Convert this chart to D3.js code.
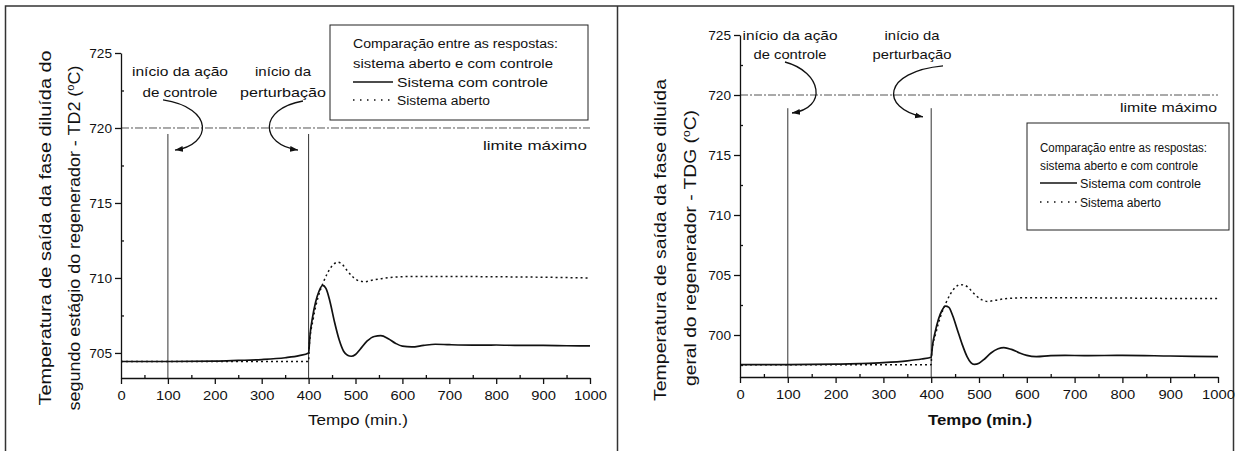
<!DOCTYPE html>
<html>
<head>
<meta charset="utf-8">
<script src="https://cdn.jsdelivr.net/npm/d3@7"></script>
<style>
	body { margin: 0; background: #fff; }
	svg { display: block; font-family: "Liberation Sans", Arial, sans-serif; }
</style>
</head>
<body>
<svg id="chart" width="1237" height="451"></svg>
<script>
// Eixos
const tempoTicks = [0, 100, 200, 300, 400, 500, 600, 700, 800, 900, 1000];
const tempoMinor = [50, 150, 250, 350, 450, 550, 650, 750, 850, 950];
const td2Ticks = [705, 710, 715, 720, 725];
const td2Minor = [707.5, 712.5, 717.5, 722.5];
const tdgTicks = [700, 705, 710, 715, 720, 725];
const tdgMinor = [697.5, 702.5, 707.5, 712.5, 717.5, 722.5];

const limiteMaximo = 720;
const inicioControle = 100;
const inicioPerturbacao = 400;

// TD2 - segundo estagio [tempo, temperatura]
const td2Controle = [[0,704.43],[100,704.43],[200,704.45],[250,704.5],[300,704.56],[350,704.68],[380,704.82],[400,705.0],[403,706.2],[408,707.3],[415,708.4],[422,709.1],[430,709.5],[437,709.3],[445,708.5],[455,707.1],[465,705.9],[475,705.1],[483,704.85],[491,704.78],[500,704.9],[510,705.25],[525,705.8],[540,706.1],[554,706.15],[570,705.95],[585,705.65],[600,705.45],[620,705.4],[645,705.5],[670,705.58],[700,705.55],[750,705.52],[800,705.53],[850,705.5],[900,705.5],[950,705.48],[1000,705.47]];
const td2Aberto = [[0,704.43],[400,704.43],[401,705.3],[410,707.3],[420,708.7],[430,709.6],[440,710.3],[450,710.8],[462,711.05],[472,710.9],[482,710.5],[495,710.05],[508,709.8],[520,709.75],[535,709.85],[555,709.95],[580,710.05],[620,710.1],[700,710.1],[800,710.08],[900,710.05],[1000,710.0]];

// TDG - geral do regenerador
const tdgControle = [[0,697.53],[100,697.53],[200,697.57],[250,697.62],[300,697.7],[350,697.85],[380,698.0],[400,698.15],[403,699.2],[408,700.2],[415,701.3],[422,702.0],[430,702.4],[437,702.3],[445,701.6],[455,700.4],[465,699.2],[475,698.2],[483,697.7],[490,697.55],[500,697.65],[510,697.95],[525,698.5],[540,698.85],[552,698.95],[568,698.8],[585,698.5],[600,698.3],[620,698.2],[650,698.28],[680,698.3],[720,698.28],[800,698.3],[900,698.25],[1000,698.2]];
const tdgAberto = [[0,697.53],[400,697.53],[401,698.5],[410,700.2],[420,701.6],[430,702.6],[440,703.4],[450,703.95],[460,704.2],[470,704.15],[480,703.85],[492,703.35],[505,702.95],[518,702.8],[535,702.9],[560,703.05],[600,703.1],[700,703.1],[800,703.08],[900,703.05],[1000,703.05]];

// setas das anotacoes, em unidades do grafico
const td2SetaControle = [[89.6,721.87],[200.4,721.33],[194,718.87],[115.1,718.53]];
const td2SetaPerturb = [[388,721.8],[292,721.27],[296.4,718.87],[377.4,718.53]];
const tdgSetaControle = [[94.1,722.75],[171.5,721.92],[184.1,718.92],[108.8,718.5]];
const tdgSetaPerturb = [[424.7,722.42],[297.1,721.92],[292.9,718.92],[382.8,718.17]];

const svg = d3.select('#chart');

svg.append('defs').append('marker')
	.attr('id', 'seta')
	.attr('markerUnits', 'userSpaceOnUse')
	.attr('markerWidth', 9).attr('markerHeight', 8)
	.attr('refX', 8).attr('refY', 0)
	.attr('viewBox', '0 -4 9 8')
	.attr('orient', 'auto')
	.append('path')
	.attr('d', 'M0,-3L8,0L0,3Z')
	.attr('fill', '#111');

// molduras
svg.append('path')
	.attr('d', 'M5.5,470V6H1233.5V470M617.5,6V470')
	.attr('fill', 'none')
	.attr('stroke', '#333')
	.attr('stroke-width', 1.5);

function addText(g, x, y, s, o) {
	o = o || {};
	const t = g.append('text')
		.attr('x', x).attr('y', y)
		.attr('font-size', o.size || 13)
		.attr('text-anchor', o.anchor || 'middle')
		.attr('font-weight', o.weight || 'normal')
		.attr('fill', '#111')
		.text(s);
	if (o.len) t.attr('textLength', o.len).attr('lengthAdjust', 'spacingAndGlyphs');
	return t;
}

class ResponsePanel {
	constructor(_config, data) {
		this.config = _config;
		this.data = data;
		this.initVis();
	}

	initVis() {
		let vis = this;
		const c = vis.config;

		vis.g = svg.append('g');
		vis.xScale = d3.scaleLinear().domain([0, 1000]).range(c.xRange);
		vis.yScale = d3.scaleLinear().domain(c.yDomain).range(c.yRange);

		vis.line = d3.line()
			.x(d => vis.xScale(d[0]))
			.y(d => vis.yScale(d[1]))
			.curve(d3.curveMonotoneX);

		vis.renderVis();
	}

	styleAxis(g) {
		g.selectAll('path, line').attr('stroke', '#111').attr('stroke-width', 1.3);
		g.selectAll('text').attr('font-size', 13).attr('fill', '#111');
		g.attr('font-family', null);
	}

	renderVis() {
		let vis = this;
		const c = vis.config;
		const g = vis.g;
		const x0 = c.yRange[0];

		// limite maximo
		g.append('line')
			.attr('x1', vis.xScale(0)).attr('x2', vis.xScale(1000))
			.attr('y1', vis.yScale(limiteMaximo)).attr('y2', vis.yScale(limiteMaximo))
			.attr('stroke', '#555').attr('stroke-width', 1)
			.attr('stroke-dasharray', '8,2,2,2');

		// linhas verticais de inicio
		[inicioControle, inicioPerturbacao].forEach(t => {
			g.append('line')
				.attr('x1', vis.xScale(t)).attr('x2', vis.xScale(t))
				.attr('y1', vis.yScale(c.vTop)).attr('y2', x0)
				.attr('stroke', '#333').attr('stroke-width', 1);
		});

		// series
		g.append('path').datum(vis.data.aberto)
			.attr('d', vis.line)
			.attr('fill', 'none').attr('stroke', '#111').attr('stroke-width', 1.5)
			.attr('stroke-dasharray', '2,3');
		g.append('path').datum(vis.data.controle)
			.attr('d', vis.line)
			.attr('fill', 'none').attr('stroke', '#111').attr('stroke-width', 1.7);

		// eixos
		const xAxisG = g.append('g').attr('transform', `translate(0,${x0})`)
			.call(d3.axisBottom(vis.xScale).tickValues(tempoTicks).tickFormat(d => String(d))
				.tickSize(6).tickSizeOuter(0).tickPadding(7));
		xAxisG.selectAll('text')
			.attr('textLength', d => String(d).length * 8.2)
			.attr('lengthAdjust', 'spacingAndGlyphs');
		vis.styleAxis(xAxisG);
		const xMinorG = g.append('g').attr('transform', `translate(0,${x0})`)
			.call(d3.axisTop(vis.xScale).tickValues(tempoMinor).tickSize(3).tickFormat(''));
		xMinorG.select('.domain').remove();
		vis.styleAxis(xMinorG);

		const x = c.xRange[0];
		const yAxisG = g.append('g').attr('transform', `translate(${x},0)`)
			.call(d3.axisLeft(vis.yScale).tickValues(c.yTicks).tickFormat(d => String(d))
				.tickSize(6).tickSizeOuter(0).tickPadding(3));
		yAxisG.selectAll('text')
			.attr('textLength', d => String(d).length * 7.6)
			.attr('lengthAdjust', 'spacingAndGlyphs');
		vis.styleAxis(yAxisG);
		const yMinorG = g.append('g').attr('transform', `translate(${x},0)`)
			.call(d3.axisRight(vis.yScale).tickValues(c.yMinor).tickSize(3).tickFormat(''));
		yMinorG.select('.domain').remove();
		vis.styleAxis(yMinorG);

		// titulos
		addText(g, c.xTitle.x, c.xTitle.y, 'Tempo (min.)', { size: 15, len: c.xTitle.len, weight: c.xTitle.weight });
		c.yTitle.forEach(tl => {
			const t = g.append('text')
				.attr('transform', `translate(${tl.x},${tl.y}) rotate(-90)`)
				.attr('font-size', 16)
				.attr('text-anchor', 'middle')
				.attr('font-weight', tl.weight || 'normal')
				.attr('fill', '#111')
				.attr('textLength', tl.len)
				.attr('lengthAdjust', 'spacingAndGlyphs');
			if (tl.unit) {
				t.append('tspan').text(tl.text + ' (');
				t.append('tspan').attr('font-size', 10).attr('dy', -6).text('o');
				t.append('tspan').attr('dy', 6).text('C)');
			} else {
				t.text(tl.text);
			}
		});

		// anotacoes
		c.notes.forEach(n => {
			n.lines.forEach((s, i) => addText(g, n.cx, n.ys[i], s, { size: 13, len: n.lens[i] }));
		});
		c.arrows.forEach(a => {
			const p = a.map(d => [vis.xScale(d[0]), vis.yScale(d[1])]);
			g.append('path')
				.attr('d', `M${p[0]}C${p[1]} ${p[2]} ${p[3]}`)
				.attr('fill', 'none').attr('stroke', '#111').attr('stroke-width', 1.3)
				.attr('marker-end', 'url(#seta)');
		});

		addText(g, c.limite.x, c.limite.y, 'limite máximo', { size: 13, anchor: 'end', len: c.limite.len });

		// legenda
		const L = c.legend;
		g.append('rect')
			.attr('x', L.x).attr('y', L.y).attr('width', L.w).attr('height', L.h)
			.attr('fill', '#fff').attr('stroke', '#222').attr('stroke-width', 1);
		addText(g, L.tx, L.rows[0], 'Comparação entre as respostas:', { size: L.size, anchor: 'start', len: L.lens[0] });
		addText(g, L.tx, L.rows[1], 'sistema aberto e com controle', { size: L.size, anchor: 'start', len: L.lens[1] });
		g.append('line')
			.attr('x1', L.tx).attr('x2', L.sampleEnd)
			.attr('y1', L.rows[2] - 4.5).attr('y2', L.rows[2] - 4.5)
			.attr('stroke', '#111').attr('stroke-width', 1.5);
		addText(g, L.labelX, L.rows[2], 'Sistema com controle', { size: L.size, anchor: 'start', len: L.lens[2] });
		g.append('line')
			.attr('x1', L.tx).attr('x2', L.sampleEnd)
			.attr('y1', L.rows[3] - 4.5).attr('y2', L.rows[3] - 4.5)
			.attr('stroke', '#111').attr('stroke-width', 1.4)
			.attr('stroke-dasharray', '1.5,5.5');
		addText(g, L.labelX, L.rows[3], 'Sistema aberto', { size: L.size, anchor: 'start', len: L.lens[3] });
	}
}

new ResponsePanel({
	xRange: [121, 590],
	yDomain: [703.33, 725],
	yRange: [378, 53],
	yTicks: td2Ticks,
	yMinor: td2Minor,
	vTop: 719.6,
	xTitle: { x: 358, y: 425, len: 100 },
	yTitle: [
		{ x: 51, y: 228, len: 355, text: 'Temperatura de saída da fase diluída do' },
		{ x: 80, y: 238, len: 345, text: 'segundo estágio do regenerador - TD2', unit: true }
	],
	notes: [
		{ cx: 180, lines: ['início da ação', 'de controle'], ys: [76, 97], lens: [96, 75] },
		{ cx: 283, lines: ['início da', 'perturbação'], ys: [76, 97], lens: [56, 86] }
	],
	arrows: [td2SetaControle, td2SetaPerturb],
	limite: { x: 587, y: 149.5, len: 104 },
	legend: { x: 330, y: 25, w: 258, h: 95, tx: 353, rows: [47.5, 67.5, 86.5, 104.5], sampleEnd: 393, labelX: 397, size: 12.5, lens: [205, 200, 151, 93] }
}, { controle: td2Controle, aberto: td2Aberto });

new ResponsePanel({
	xRange: [740, 1218],
	yDomain: [696.5, 725],
	yRange: [377, 35],
	yTicks: tdgTicks,
	yMinor: tdgMinor,
	vTop: 718.9,
	xTitle: { x: 980, y: 425, len: 104, weight: 'bold' },
	yTitle: [
		{ x: 666, y: 240, len: 322, text: 'Temperatura de saída da fase diluída' },
		{ x: 696, y: 248, len: 276, text: 'geral do regenerador - TDG', unit: true }
	],
	notes: [
		{ cx: 790, lines: ['início da ação', 'de controle'], ys: [39.5, 58.5], lens: [95, 73] },
		{ cx: 912, lines: ['início da', 'perturbação'], ys: [39.5, 58.5], lens: [55, 79] }
	],
	arrows: [tdgSetaControle, tdgSetaPerturb],
	limite: { x: 1217, y: 111.5, len: 97 },
	legend: { x: 1027, y: 123, w: 202, h: 107, tx: 1040, rows: [151.5, 169.5, 187.5, 206.5], sampleEnd: 1077, labelX: 1080, size: 12, lens: [167, 158, 121, 81] }
}, { controle: tdgControle, aberto: tdgAberto });
</script>
</body>
</html>
